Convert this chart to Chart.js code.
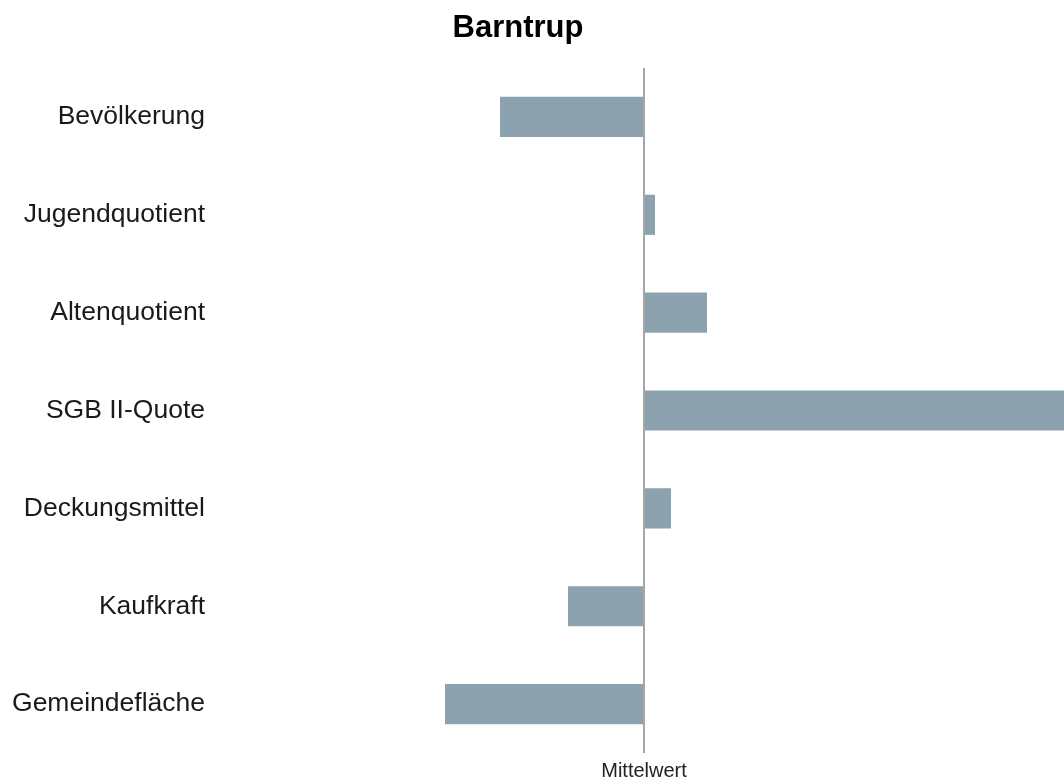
<!DOCTYPE html>
<html>
<head>
<meta charset="utf-8">
<script src="https://cdn.jsdelivr.net/npm/chart.js@4.4.0/dist/chart.umd.min.js"></script>
<style>
  html, body { margin: 0; padding: 0; background: #fff; overflow: hidden; }
  #wrap { width: 1064px; height: 780px; }
</style>
</head>
<body>
<div id="wrap"><canvas id="myChart"></canvas></div>
<script>
// Abweichung vom Mittelwert (relative Einheiten)
var categories = ['Bevölkerung', 'Jugendquotient', 'Altenquotient', 'SGB II-Quote', 'Deckungsmittel', 'Kaufkraft', 'Gemeindefläche'];
var values = [-1.44, 0.11, 0.63, 4.5, 0.27, -0.76, -1.99];
var axisLabels = ['Mittelwert'];
var title = 'Barntrup';

var textPlugin = {
    id: 'customTexts',
    afterDraw: function (chart) {
        var ctx = chart.ctx;
        ctx.save();
        ctx.font = 'bold 31px "Liberation Sans", Arial, sans-serif';
        ctx.fillStyle = '#000';
        ctx.textAlign = 'center';
        ctx.textBaseline = 'middle';
        ctx.fillText(title, 518, 28);
        // Beschriftung der Mittelwert-Linie
        ctx.font = '20px "Liberation Sans", Arial, sans-serif';
        ctx.fillStyle = '#222';
        ctx.textBaseline = 'alphabetic';
        ctx.fillText(axisLabels[0], chart.scales.x.getPixelForValue(0), 777);
        ctx.restore();
    }
};

var ctx = document.getElementById('myChart').getContext('2d');
var chart = new Chart(ctx, {
    type: 'bar',
    data: {
        labels: categories,
        datasets: [{
            data: values,
            backgroundColor: '#8CA2AE',
            borderWidth: 0,
            barPercentage: 0.41,
            categoryPercentage: 1.0
        }]
    },
    options: {
        indexAxis: 'y',
        responsive: true,
        maintainAspectRatio: false,
        animation: false,
        layout: { padding: { top: 68, right: 0, left: 0, bottom: 0 } },
        plugins: {
            legend: { display: false },
            tooltip: { enabled: false }
        },
        scales: {
            x: {
                min: -4.2,
                max: 4.2,
                afterBuildTicks: function (scale) {
                    scale.ticks = [{ value: 0 }];
                },
                afterFit: function (scale) {
                    scale.height = 18;
                },
                ticks: { display: false },
                grid: {
                    color: '#A6A6A6',
                    lineWidth: 2,
                    drawTicks: false
                },
                border: { display: false }
            },
            y: {
                afterFit: function (scale) {
                    scale.width = 224;
                },
                ticks: {
                    color: '#1a1a1a',
                    padding: 11,
                    font: { family: '"Liberation Sans", Arial, sans-serif', size: 26.5 }
                },
                grid: { display: false },
                border: { display: false }
            }
        }
    },
    plugins: [textPlugin]
});
</script>
</body>
</html>
